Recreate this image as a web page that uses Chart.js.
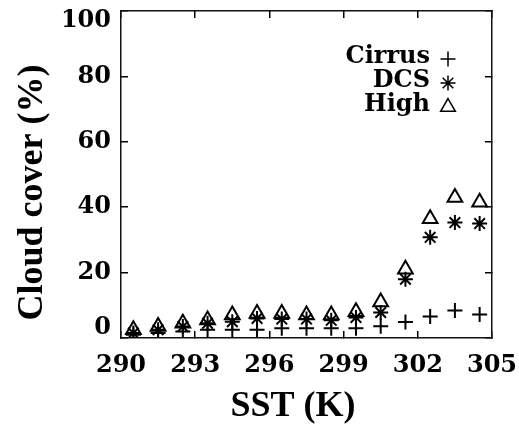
<!DOCTYPE html>
<html>
<head>
<meta charset="utf-8">
<script src="https://cdn.jsdelivr.net/npm/chart.js@4.4.1/dist/chart.umd.min.js"></script>
<style>
  html, body { margin: 0; padding: 0; background: #fff; }
  #wrap { width: 519px; height: 430px; }
</style>
</head>
<body>
<div id="wrap"><canvas id="sst_chart" width="519" height="430"></canvas></div>
<script>
// SST bins (K) and cloud cover (%) per cloud type
const sst = [290.5, 291.5, 292.5, 293.5, 294.5, 295.5, 296.5, 297.5, 298.5, 299.5, 300.5, 301.5, 302.5, 303.5, 304.5];
const cirrus = [1, 1.5, 2, 2.5, 2.5, 2.5, 3, 3, 3, 3, 3.6, 4.9, 6.6, 8.4, 7.2];
const dcs = [1.5, 2.5, 3.5, 4.5, 5, 6, 5.8, 5.8, 5.4, 6.3, 7.8, 18, 30.8, 35.3, 35];
const high = [2.5, 3.5, 4.5, 5.5, 7, 7.5, 7.5, 7, 7, 8, 11, 21, 36.5, 43, 41.5];

const seriesNames = ['Cirrus', 'DCS', 'High'];
const xTicks = [290, 293, 296, 299, 302, 305];
const yTicks = [0, 20, 40, 60, 80, 100];

const tickFont = { family: 'DejaVu Serif', weight: 'bold', size: 24 };
const titleFont = { family: 'Liberation Serif', weight: 'bold', size: 36, lineHeight: 1.2 };

function pairs(ys) {
    return sst.map((x, i) => ({ x: x, y: ys[i] }));
}

const markers = [
    { style: 'cross', radius: 7.5 },
    { style: 'star', radius: 7.5 },
    { style: 'triangle', radius: 8.5 }
];

// legend inside the plot, text first then marker, like gnuplot
const keyPlugin = {
    id: 'key',
    afterDatasetsDraw(chart) {
        const ctx = chart.ctx;
        const area = chart.chartArea;
        ctx.save();
        ctx.font = 'bold 24px "DejaVu Serif"';
        ctx.textAlign = 'right';
        ctx.textBaseline = 'middle';
        chart.data.datasets.forEach((ds, i) => {
            const y = area.top + 46 + i * 24;
            ctx.fillStyle = '#000';
            ctx.fillText(ds.label, area.right - 62, y);
            ctx.strokeStyle = '#000';
            ctx.fillStyle = 'rgba(0,0,0,0)';
            ctx.lineWidth = 1.5;
            Chart.helpers.drawPoint(ctx, {
                pointStyle: ds.pointStyle,
                radius: ds.pointRadius,
                borderWidth: 1.5,
                rotation: 0
            }, area.right - 44, y + 2);
        });
        ctx.restore();
    }
};

// keep the plot box fixed: no extra room for overhanging labels
function fixBox(size) {
    return axis => {
        if (axis.isHorizontal()) axis.height = size;
        else axis.width = size;
        axis.paddingLeft = 0;
        axis.paddingRight = 0;
        axis.paddingTop = 0;
        axis.paddingBottom = 0;
    };
}

const frameGrid = {
    drawOnChartArea: false,
    drawTicks: true,
    tickLength: -7,
    color: '#000',
    lineWidth: 1.5
};
const frameBorder = { display: true, color: '#111', width: 1.5 };

const ctx = document.getElementById('sst_chart').getContext('2d');
new Chart(ctx, {
    type: 'scatter',
    data: {
        datasets: [cirrus, dcs, high].map((ys, i) => ({
            label: seriesNames[i],
            data: pairs(ys),
            pointStyle: markers[i].style,
            pointRadius: markers[i].radius,
            pointHoverRadius: markers[i].radius,
            borderColor: '#000',
            backgroundColor: 'rgba(0,0,0,0)',
            borderWidth: 2,
            showLine: false
        }))
    },
    options: {
        responsive: false,
        animation: false,
        devicePixelRatio: 1,
        layout: { padding: { left: 0, top: 11, right: 27, bottom: 0 } },
        plugins: {
            legend: { display: false },
            tooltip: { enabled: false }
        },
        scales: {
            x: {
                type: 'linear',
                position: 'bottom',
                min: 290,
                max: 305,
                afterBuildTicks: axis => { axis.ticks = xTicks.map(v => ({ value: v })); },
                ticks: { color: '#000', font: tickFont, padding: 20, maxRotation: 0, autoSkip: false },
                grid: frameGrid,
                border: frameBorder,
                title: {
                    display: true,
                    text: 'SST (K)   ',
                    color: '#000',
                    font: titleFont,
                    padding: { top: 0, bottom: 2 }
                },
                afterFit: fixBox(92)
            },
            x2: {
                type: 'linear',
                position: 'top',
                min: 290,
                max: 305,
                afterBuildTicks: axis => { axis.ticks = xTicks.map(v => ({ value: v })); },
                ticks: { display: false },
                grid: frameGrid,
                border: frameBorder,
                afterFit: fixBox(0)
            },
            y: {
                type: 'linear',
                position: 'left',
                min: 0,
                max: 100,
                afterBuildTicks: axis => { axis.ticks = yTicks.map(v => ({ value: v })); },
                ticks: {
                    color: '#000',
                    font: { family: 'DejaVu Serif', weight: 'bold', size: 24, lineHeight: '20px' },
                    padding: 17,
                    // end labels sit inside the frame, as in the original plot
                    callback: v => v === 100 ? ['', '100'] : (v === 0 ? ['0', ''] : String(v))
                },
                grid: frameGrid,
                border: frameBorder,
                title: {
                    display: true,
                    text: 'Cloud cover (%)    ',
                    color: '#000',
                    font: titleFont,
                    padding: { top: 11, bottom: 0 }
                },
                afterFit: fixBox(121)
            },
            y2: {
                type: 'linear',
                position: 'right',
                min: 0,
                max: 100,
                afterBuildTicks: axis => { axis.ticks = yTicks.map(v => ({ value: v })); },
                ticks: { display: false },
                grid: frameGrid,
                border: frameBorder,
                afterFit: fixBox(0)
            }
        }
    },
    plugins: [keyPlugin]
});
</script>
</body>
</html>
